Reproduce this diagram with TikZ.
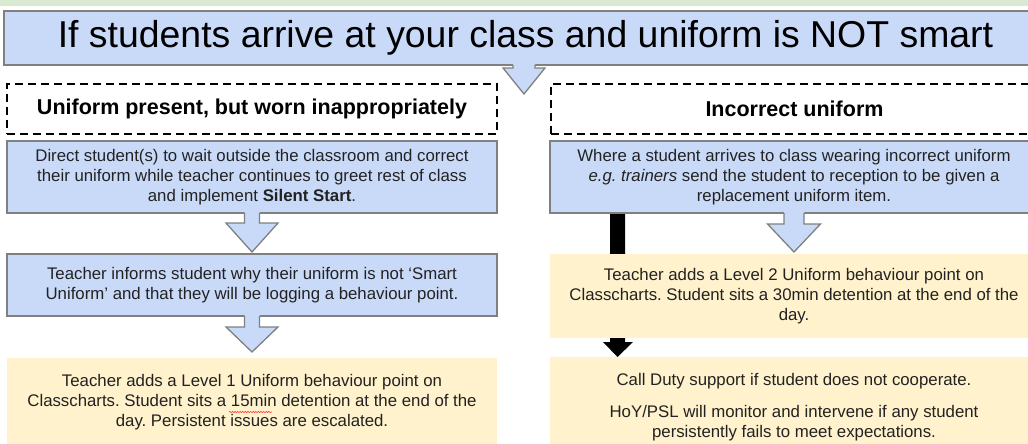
\documentclass[tikz,border=0pt]{standalone}
\usepackage{fontspec}
\setmainfont{Liberation Sans}
\usetikzlibrary{calc,decorations.pathmorphing}
\definecolor{bfill}{HTML}{C9DAF8}
\definecolor{yfill}{HTML}{FFF2CC}
\definecolor{gfill}{HTML}{D9EAD3}
\definecolor{bline}{HTML}{808080}
\definecolor{tcol}{HTML}{222222}
\pgfdeclarelayer{back}
\pgfsetlayers{back,main}
\frenchspacing
% #1 shaft top point, #2 tip point, #3 shaft half width, #4 head half width, #5 shaft length
\newcommand\blockarrow[5]{%
  \fill[bfill] let \p1=#1, \p2=#2 in
    (\x1-#3pt,\y1+1pt) -- (\x1-#3pt,\y1-#5pt) -- (\x1-#4pt,\y1-#5pt) -- (\x1,\y2)
    -- (\x1+#4pt,\y1-#5pt) -- (\x1+#3pt,\y1-#5pt) -- (\x1+#3pt,\y1+1pt) -- cycle;
  \draw[arrowline] let \p1=#1, \p2=#2 in
    (\x1-#3pt,\y1) -- (\x1-#3pt,\y1-#5pt) -- (\x1-#4pt,\y1-#5pt) -- (\x1,\y2)
    -- (\x1+#4pt,\y1-#5pt) -- (\x1+#3pt,\y1-#5pt) -- (\x1+#3pt,\y1);}
\begin{document}
\begin{tikzpicture}[x=1pt,y=1pt,
  every node/.style={inner sep=0pt,outer sep=0pt},
  bodyfont/.style={font=\frenchspacing\fontsize{16.8}{20}\selectfont},
  titlebox/.style={draw=bline,line width=1.5pt,fill=bfill,text=black,
    font=\fontsize{37.4}{44}\selectfont},
  headbox/.style={draw=black,line width=2pt,dash pattern=on 8pt off 5pt,
    fill=white,text=black,font=\bfseries\fontsize{21.5}{26}\selectfont},
  bluebox/.style={draw=bline,line width=1.5pt,fill=bfill,text=tcol,align=center,bodyfont},
  yellowbox/.style={fill=yfill,text=tcol,align=center,bodyfont},
  arrowline/.style={draw=bline,line width=1.3pt,line join=miter},
  spell/.style={draw=red!75,line width=0.6pt,decorate,
    decoration={snake,amplitude=0.7pt,segment length=2.6pt}}
]
\useasboundingbox (0,0) rectangle (1028,-444);
\fill[gfill] (0,0) rectangle (1028,-6);

\node[titlebox,minimum width=1043pt,minimum height=54pt] (title) at (525.5,-38)
  {If students arrive at your class and uniform is NOT smart};

\node[headbox,minimum width=490pt,minimum height=50pt] (lh) at (252,-109)
  {Uniform present, but worn inappropriately};
\node[headbox,minimum width=487pt,minimum height=50pt] (rh) at (794.5,-109)
  {Incorrect uniform};

\node[bluebox,minimum width=490pt,minimum height=72pt] (lb1) at (252,-177)
  {Direct student(s) to wait outside the classroom and correct\\
   their uniform while teacher continues to greet rest of class\\
   and implement \textbf{Silent Start}.};
\node[bluebox,minimum width=490pt,minimum height=62pt] (lb2) at (252,-285)
  {Teacher informs student why their uniform is not ‘Smart\\
   Uniform’ and that they will be logging a behaviour point.};
\node[yellowbox,minimum width=490pt,minimum height=88pt] (ly) at (252,-402)
  {Teacher adds a Level 1 Uniform behaviour point on\\
   Classcharts. Student sits a 15min detention at the end of the\\
   day. Persistent issues are escalated.};

\node[bluebox,minimum width=488pt,minimum height=72pt] (rb) at (794,-177)
  {Where a student arrives to class wearing incorrect uniform\\
   \textit{e.g. trainers} send the student to reception to be given a\\
   replacement uniform item.};
\node[yellowbox,minimum width=488pt,minimum height=84pt] (ry1) at (794,-296)
  {Teacher adds a Level 2 Uniform behaviour point on\\
   Classcharts. Student sits a 30min detention at the end of the\\
   day.};
\node[yellowbox,minimum width=488pt,minimum height=101pt] (ry2) at (794,-407.5)
  {Call Duty support if student does not cooperate.\\[12pt]
   HoY/PSL will monitor and intervene if any student\\
   persistently fails to meet expectations.};

% block arrows
\blockarrow{([xshift=-1.5pt]title.south)}{([xshift=-1.5pt,yshift=-29pt]title.south)}{11}{21}{3}
\blockarrow{(lb1.south)}{([yshift=2pt]lb2.north)}{7.5}{26}{10}
\blockarrow{(lb2.south)}{([yshift=6pt]ly.north)}{7.5}{26}{11}
\blockarrow{(rb.south)}{([yshift=2pt]ry1.north)}{10}{26.5}{11}

% black connector behind the first yellow box
\begin{pgfonlayer}{back}
\fill[black] let \p1=(rb.south), \p2=(ry2.north) in
  (610pt,\y1) -- (625pt,\y1) -- (625pt,\y2+15pt) -- (633pt,\y2+15pt)
  -- (617.5pt,\y2) -- (603pt,\y2+15pt) -- (610pt,\y2+15pt) -- cycle;
\end{pgfonlayer}

% spell-check underline
\coordinate (sp1) at (229,-412);
\coordinate (sp2) at (272,-412);
\draw[spell] (sp1) -- (sp2);
\end{tikzpicture}
\end{document}
